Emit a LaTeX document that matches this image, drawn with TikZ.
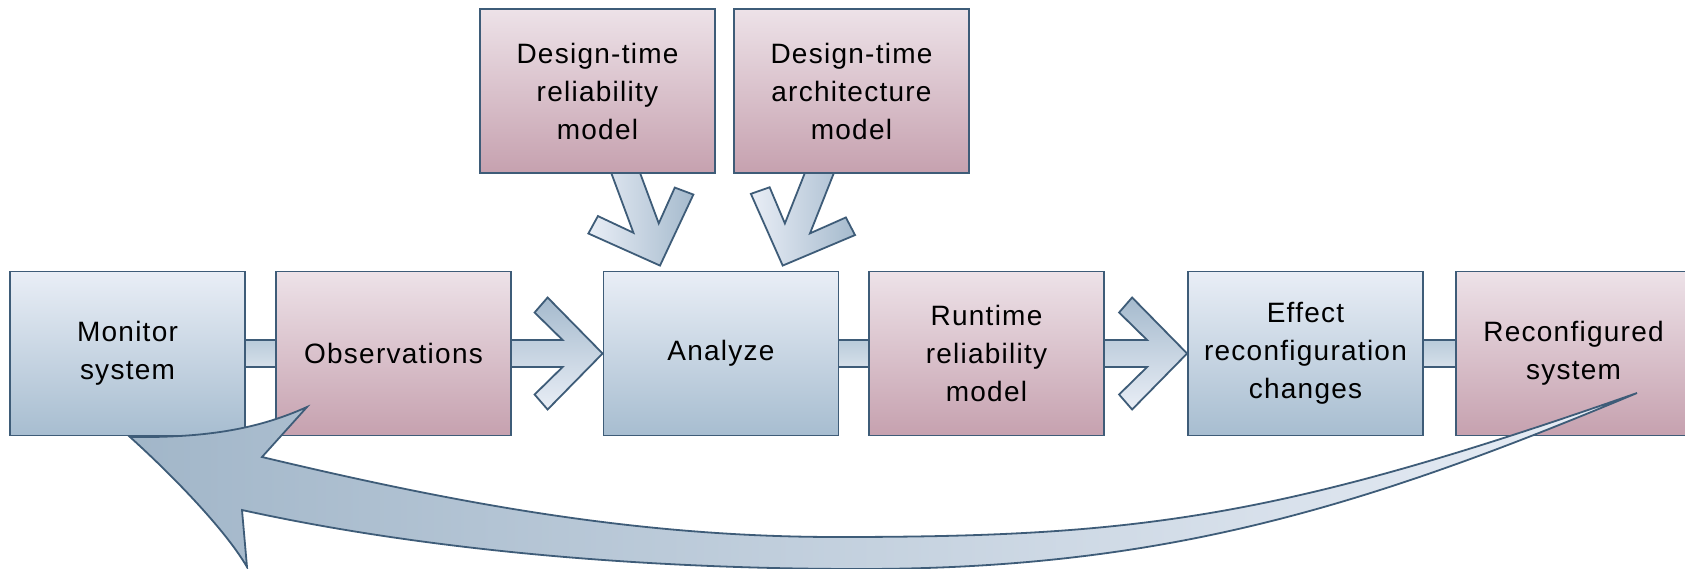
\documentclass[tikz,border=0pt]{standalone}
\usepackage{fontspec}
\setmainfont{Liberation Sans}[LetterSpace=4.5]
\usetikzlibrary{calc}

\pgfdeclarelayer{links}
\pgfsetlayers{links,main}

\definecolor{edge}{HTML}{3E5C78}
\definecolor{bluetop}{HTML}{E9EEF6}
\definecolor{bluebot}{HTML}{A7BDD0}
\definecolor{pinktop}{HTML}{EDE2E8}
\definecolor{pinkbot}{HTML}{C6A1AF}
\definecolor{arrdark}{HTML}{A5BACD}
\definecolor{arrlight}{HTML}{E9EEF6}
\definecolor{bardark}{HTML}{B9CBDA}
\definecolor{barlight}{HTML}{D6E0EA}

\tikzset{
  box/.style={draw=edge, line width=1.8pt, minimum width=235pt, minimum height=164pt,
    inner sep=0pt, align=center, font=\fontsize{28}{38}\selectfont},
  bluebox/.style={box, top color=bluetop, bottom color=bluebot},
  pinkbox/.style={box, top color=pinktop, bottom color=pinkbot},
  chev/.style={draw=edge, line width=1.8pt, line join=miter},
  chevdown/.style={chev, top color=arrdark, bottom color=arrlight},
  chevside/.style={chev, left color=arrlight, right color=arrdark},
  linkbar/.style={draw=edge, line width=1.8pt, top color=bardark, bottom color=barlight},
  bigarrow/.style={draw=edge, line width=1.8pt, line join=miter, left color=arrdark!98!black, right color=arrlight},
}

% chevron block arrow from #2 to #3 (tip at #3), styled with #1
\newcommand\chevron[3]{%
  \path let \p1=(#2), \p2=(#3) in \pgfextra{%
    \pgfmathsetmacro\chevang{atan2(\y2-\y1,\x2-\x1)}%
    \pgfmathsetmacro\chevlen{veclen(\x2-\x1,\y2-\y1)}%
    \global\let\chevang\chevang
    \global\let\chevlen\chevlen};
  \begin{scope}[shift={(#2)}, rotate=\chevang]
    \path[#1] (-40,-13.5) -- (\chevlen-40,-13.5) -- (\chevlen-68,-41)
      -- (\chevlen-55,-56) -- (\chevlen,0) -- (\chevlen-55,56)
      -- (\chevlen-68,41) -- (\chevlen-40,13.5) -- (-40,13.5) -- cycle;
  \end{scope}}

\begin{document}
\begin{tikzpicture}[x=1pt, y=-1pt]
  \useasboundingbox (0,0) rectangle (1685,568);
  \begin{pgfonlayer}{links}
    \fill[white] (0,0) rectangle (1685,568);
  \end{pgfonlayer}

  % process boxes
  \path
    (127.5,353.5) node[bluebox] (mon) {Monitor\\system}
    (393.5,353.5) node[pinkbox] (obs) {Observations}
    (721,353.5)   node[bluebox] (ana) {Analyze}
    (986.5,353.5) node[pinkbox] (run) {Runtime\\reliability\\model}
    (1305.5,353.5) node[bluebox] (eff) {Effect\\reconfiguration\\changes}
    (1573.5,353.5) node[pinkbox] (rec) {Reconfigured\\system}
    (597.5,91)    node[pinkbox] (rel) {Design-time\\reliability\\model}
    (851.5,91)    node[pinkbox] (arc) {Design-time\\architecture\\model};

  % connectors sit behind the boxes
  \begin{pgfonlayer}{links}
    \path[linkbar] ([yshift=13.5pt]mon.center) rectangle ([yshift=-13.5pt]obs.center);
    \path[linkbar] ([yshift=13.5pt]ana.center) rectangle ([yshift=-13.5pt]run.center);
    \path[linkbar] ([yshift=13.5pt]eff.center) rectangle ([yshift=-13.5pt]rec.center);

    \coordinate (c1s) at ([xshift=28.5pt]rel.south);
    \coordinate (c1e) at ([xshift=-61pt, yshift=5pt]ana.north);
    \coordinate (c2s) at ([xshift=-32.5pt]arc.south);
    \coordinate (c2e) at ([xshift=61.7pt, yshift=5pt]ana.north);
    \chevron{chevdown}{obs.east}{ana.west}
    \chevron{chevdown}{run.east}{eff.west}
    \chevron{chevside}{c1s}{c1e}
    \chevron{chevside}{c2s}{c2e}
  \end{pgfonlayer}

  % feedback arrow from the reconfigured system back to monitoring
  \path[bigarrow] (1637,393)
    .. controls (1278.3,518.8) and (1137,537) .. (837,537)
    .. controls (637,537) and (456.6,503.4) .. (262,457)
    -- (307,407)
    .. controls (260,428) and (210,438) .. (130,437)
    .. controls (170,473) and (225,529) .. (247,567)
    -- (242,510)
    .. controls (437.4,553) and (660,569) .. (860,569)
    .. controls (1160,569) and (1360.4,509.1) .. (1637,393) -- cycle;
\end{tikzpicture}
\end{document}
